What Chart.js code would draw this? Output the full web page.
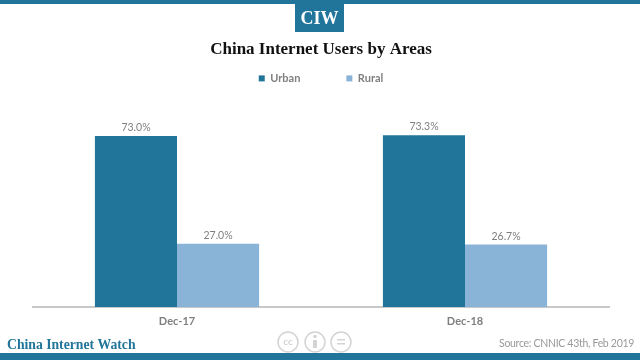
<!DOCTYPE html>
<html>
<head>
<meta charset="utf-8">
<style>
  html, body { margin: 0; padding: 0; background: #fff; }
  #wrap { position: relative; width: 640px; height: 360px; }
</style>
</head>
<body>
<div id="wrap"><canvas id="barChart" width="640" height="360"></canvas></div>
<script src="https://cdn.jsdelivr.net/npm/chart.js@4"></script>
<script>
const categories = ['Dec-17', 'Dec-18'];
const urban = [73.0, 73.3];
const rural = [27.0, 26.7];
const seriesNames = ['Urban', 'Rural'];

const BLUE = '#21759b';
const LIGHT = '#8ab3d8';
const GREY = '#7f7f7f';
const SERIF = '"Liberation Serif", serif';

// bar value labels, chart.js has no built in one
const valueLabels = {
  id: 'valueLabels',
  afterDatasetsDraw(chart) {
    const ctx = chart.ctx;
    ctx.save();
    ctx.font = '10.5px Lato';
    ctx.fillStyle = GREY;
    ctx.textAlign = 'center';
    ctx.textBaseline = 'bottom';
    chart.data.datasets.forEach((ds, i) => {
      chart.getDatasetMeta(i).data.forEach((bar, j) => {
        ctx.fillText(ds.data[j].toFixed(1) + '%', bar.x, bar.y - 3);
      });
    });
    ctx.restore();
  },
};

// site header and footer around the chart
const frame = {
  id: 'frame',
  afterDraw(chart) {
    const ctx = chart.ctx;
    ctx.save();
    ctx.fillStyle = BLUE;
    ctx.fillRect(0, 0, 640, 4);
    ctx.fillRect(295, 0, 49, 32);
    ctx.fillRect(0, 353, 640, 7);

    ctx.fillStyle = '#fff';
    ctx.font = 'bold 18px ' + SERIF;
    ctx.textAlign = 'center';
    ctx.textBaseline = 'middle';
    ctx.fillText('CIW', 319.5, 19);

    ctx.fillStyle = BLUE;
    ctx.font = 'bold 13.7px ' + SERIF;
    ctx.textAlign = 'left';
    ctx.fillText('China Internet Watch', 7, 345);

    ctx.fillStyle = '#999';
    ctx.font = '10.5px Lato';
    ctx.letterSpacing = '-0.3px';
    ctx.textAlign = 'right';
    ctx.fillText('Source: CNNIC 43th, Feb 2019', 634, 344);
    ctx.letterSpacing = '0px';

    // cc badges
    ctx.strokeStyle = '#d4d4d4';
    ctx.lineWidth = 1.5;
    [288, 315, 341].forEach((x) => {
      ctx.beginPath();
      ctx.arc(x, 342, 10, 0, Math.PI * 2);
      ctx.stroke();
    });
    ctx.fillStyle = '#d4d4d4';
    ctx.font = 'bold 10px Lato';
    ctx.textAlign = 'center';
    ctx.fillText('cc', 288, 342);
    ctx.fillRect(313, 340, 4, 8);
    ctx.beginPath();
    ctx.arc(315, 336.5, 1.8, 0, Math.PI * 2);
    ctx.fill();
    ctx.fillRect(337, 339, 8, 1.5);
    ctx.fillRect(337, 343, 8, 1.5);
    ctx.restore();
  },
};

new Chart(document.getElementById('barChart'), {
  type: 'bar',
  data: {
    labels: categories,
    datasets: [
      { label: seriesNames[0], data: urban, backgroundColor: BLUE },
      { label: seriesNames[1], data: rural, backgroundColor: LIGHT },
    ],
  },
  plugins: [valueLabels, frame],
  options: {
    responsive: false,
    animation: false,
    layout: { padding: { left: 33, right: 31, top: 0, bottom: 0 } },
    datasets: { bar: { categoryPercentage: 0.57, barPercentage: 1 } },
    scales: {
      x: {
        grid: { display: false, drawTicks: false },
        border: { color: '#c8c8c8', width: 2 },
        ticks: { color: GREY, font: { family: 'Lato', size: 11, weight: 'bold' }, padding: 8 },
        afterFit(axis) { axis.height = 53; },
      },
      y: {
        display: false,
        min: 0,
        max: 91,
        afterFit(axis) { axis.width = 0; },
      },
    },
    plugins: {
      tooltip: { enabled: false },
      title: {
        display: true,
        text: 'China Internet Users by Areas',
        color: '#111',
        font: { family: SERIF, size: 17, weight: 'bold' },
        // legend labels.padding also pads above the legend, pull it back up
        padding: { top: 39.5, bottom: -33 },
      },
      legend: {
        position: 'top',
        labels: {
          boxWidth: 6,
          boxHeight: 6,
          padding: 46,
          color: GREY,
          font: { family: 'Lato', size: 11, weight: 'bold' },
        },
      },
    },
  },
});
</script>
</body>
</html>
